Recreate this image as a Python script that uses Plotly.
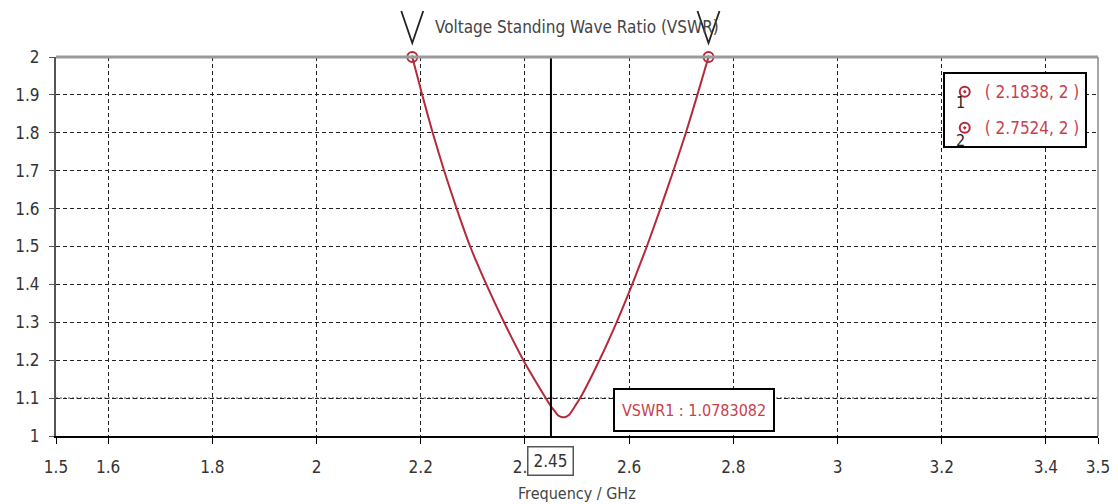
import plotly.graph_objects as go

# VSWR curve
freq = [2.1838, 2.203, 2.223, 2.245, 2.269, 2.295, 2.326, 2.360, 2.397, 2.440,
        2.450, 2.458, 2.464, 2.470, 2.478, 2.485, 2.494, 2.506, 2.543, 2.576,
        2.606, 2.634, 2.660, 2.685, 2.709, 2.731, 2.7524]
vswr = [2.0, 1.9, 1.8, 1.7, 1.6, 1.5, 1.4, 1.3, 1.2, 1.1,
        1.078, 1.064, 1.054, 1.050, 1.050, 1.056, 1.074, 1.1, 1.2, 1.3,
        1.4, 1.5, 1.6, 1.7, 1.8, 1.9, 2.0]

marker_freq = [2.1838, 2.7524]
marker_vswr = [2, 2]
marker_names = ["( 2.1838, 2 )", "( 2.7524, 2 )"]

cursor_freq = 2.45
cursor_value = 1.0783082

x_ticks = [1.5, 1.6, 1.8, 2, 2.2, 2.4, 2.6, 2.8, 3, 3.2, 3.4, 3.5]
x_labels = ["1.5", "1.6", "1.8", "2", "2.2", "2.4", "2.6", "2.8", "3", "3.2", "3.4", "3.5"]
y_ticks = [1, 1.1, 1.2, 1.3, 1.4, 1.5, 1.6, 1.7, 1.8, 1.9, 2]
y_labels = ["1", "1.1", "1.2", "1.3", "1.4", "1.5", "1.6", "1.7", "1.8", "1.9", "2"]

red = "#b52a3a"
txt_red = "#c8404e"
font = "DejaVu Sans Condensed, Liberation Sans Narrow, Liberation Sans"

fig = go.Figure()
fig.add_trace(go.Scatter(x=freq, y=vswr, mode="lines", showlegend=False,
                         line=dict(color=red, width=2, shape="spline", smoothing=0.6),
                         hoverinfo="skip"))
for i, (f, v, name) in enumerate(zip(marker_freq, marker_vswr, marker_names)):
    fig.add_trace(go.Scatter(x=[f], y=[v], mode="markers", name=name, cliponaxis=False,
                             legendgroup=f"m{i}",
                             marker=dict(symbol="circle-open-dot", size=10, color=red,
                                         line=dict(width=2, color=red))))

shapes = [
    # the 1.1 grid line is a lighter dotted one in the original
    dict(type="line", xref="paper", yref="y", x0=0, x1=1, y0=1.1, y1=1.1, layer="between",
         line=dict(color="white", width=2)),
    dict(type="line", xref="paper", yref="y", x0=0, x1=1, y0=1.1, y1=1.1, layer="between",
         line=dict(color="#8a8a8a", width=1.5, dash="2px,2px")),
    # cursor line
    dict(type="line", xref="x", yref="paper", x0=cursor_freq, x1=cursor_freq, y0=0, y1=1,
         line=dict(color="black", width=2)),
    # frame: grey top and right
    dict(type="line", xref="paper", yref="paper", x0=0, x1=1, y0=1, y1=1,
         line=dict(color="#9a9a9a", width=3)),
    dict(type="line", xref="paper", yref="paper", x0=1, x1=1, y0=0, y1=1,
         line=dict(color="#8a8a8a", width=1.5)),
]
# "V" pointers above the markers
for f in marker_freq:
    shapes.append(dict(type="path", xref="x", yref="paper", xsizemode="pixel", ysizemode="pixel",
                       xanchor=f, yanchor=1, path="M -11,46 L 0,14 L 11,46",
                       line=dict(color="#222", width=1.8)))

annotations = [
    dict(text="Voltage Standing Wave Ratio (VSWR)", xref="paper", yref="paper",
         x=0.5, y=1, yanchor="middle", yshift=30, showarrow=False,
         font=dict(family=font, size=17, color="#444")),
    dict(text="Frequency / GHz", xref="paper", yref="paper", x=0.5, y=0, yanchor="middle",
         yshift=-57, showarrow=False, font=dict(family=font, size=16, color="#444")),
    dict(text="2.45", xref="x", yref="paper", x=cursor_freq, y=0, yanchor="middle", yshift=-25,
         showarrow=False, bgcolor="white", bordercolor="#555", borderwidth=1.5, borderpad=2,
         width=40, height=23, font=dict(family=font, size=17, color="#333")),
    dict(text=f"VSWR1 : {cursor_value}", xref="x", yref="y", x=2.725, y=1.069,
         showarrow=False, bgcolor="white", bordercolor="black", borderwidth=2, borderpad=3,
         width=152, height=34, font=dict(family=font, size=16, color=txt_red)),
    dict(text="1", xref="paper", yref="paper", x=0.868, y=0.879, xanchor="center",
         yanchor="middle", showarrow=False, font=dict(family=font, size=16, color="#222")),
    dict(text="2", xref="paper", yref="paper", x=0.868, y=0.781, xanchor="center",
         yanchor="middle", showarrow=False, font=dict(family=font, size=16, color="#222")),
]

# the page body adds an 8px offset, so margins are taken 8px smaller on top/left
fig.update_layout(
    width=1118, height=504,
    margin=dict(l=48, r=28, t=49, b=76),
    paper_bgcolor="white", plot_bgcolor="white",
    font=dict(family=font, size=17, color="#333"),
    shapes=shapes, annotations=annotations,
    legend=dict(x=0.851, y=0.96, xanchor="left", yanchor="top", bgcolor="white",
                bordercolor="black", borderwidth=2, font=dict(family=font, size=17, color=txt_red),
                tracegroupgap=11, itemwidth=30),
    xaxis=dict(range=[1.5, 3.5], tickvals=x_ticks, ticktext=x_labels, showgrid=True,
               gridcolor="#222", griddash="4px,3px", gridwidth=1, zeroline=False,
               showline=True, linecolor="black", linewidth=2, ticks="outside", ticklen=6,
               tickcolor="black", ticklabelstandoff=9, automargin=False),
    yaxis=dict(range=[1, 2], tickvals=y_ticks, ticktext=y_labels, showgrid=True,
               gridcolor="#222", griddash="4px,3px", gridwidth=1, zeroline=False,
               showline=True, linecolor="#555", linewidth=2, ticks="outside", ticklen=5,
               tickcolor="#555", ticklabelstandoff=6, automargin=False),
)

fig.write_html("out.html")
